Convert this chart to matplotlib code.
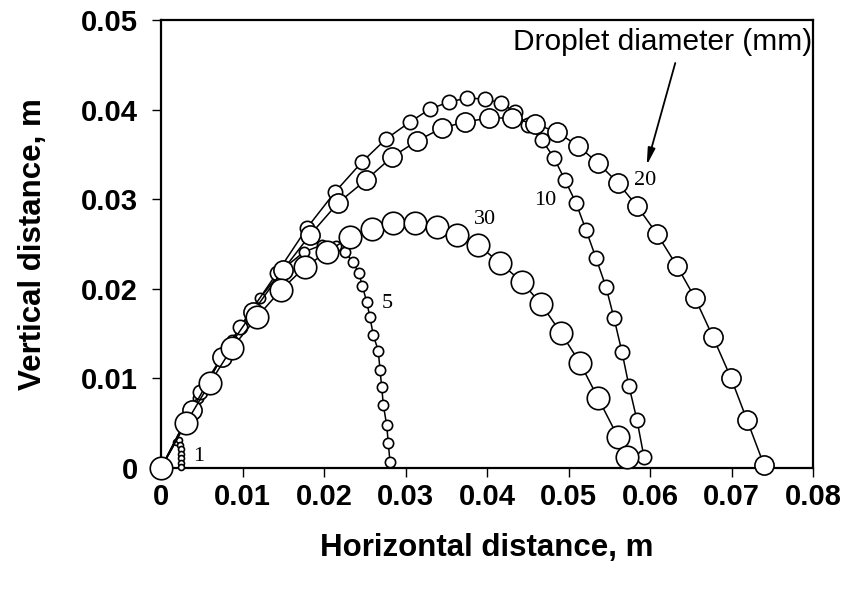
import matplotlib
matplotlib.use("Agg")
import matplotlib.pyplot as plt

# Droplet trajectories (x, y in m) for diameters 1, 5, 10, 20, 30 mm
x_1 = [0.0, 0.0018, 0.0022, 0.0023, 0.0024, 0.0024, 0.0024, 0.0024, 0.0024]
y_1 = [0.0, 0.0029, 0.0031, 0.0026, 0.0021, 0.0016, 0.0011, 0.0006, 0.0001]

x_5 = [0.0, 0.00454, 0.00871, 0.01215, 0.01509, 0.01755, 0.01975, 0.02147, 0.02258,
       0.02352, 0.02429, 0.0247, 0.02524, 0.02564, 0.02605, 0.02666, 0.02687,
       0.02708, 0.02728, 0.02769, 0.02789, 0.0281]
y_5 = [0.0, 0.00781, 0.01429, 0.01897, 0.02232, 0.02411, 0.02489, 0.02478, 0.02411,
       0.02302, 0.02173, 0.02031, 0.01856, 0.01682, 0.01481, 0.01309, 0.01094,
       0.00907, 0.00703, 0.0048, 0.00276, 0.00064]

x_10 = [0.0, 0.00479, 0.00969, 0.01423, 0.01791, 0.02135, 0.02466, 0.02761, 0.03055,
        0.03301, 0.03534, 0.03755, 0.03975, 0.04172, 0.04344, 0.04503, 0.04675,
        0.04822, 0.04957, 0.05092, 0.05215, 0.05337, 0.0546, 0.05558, 0.05656,
        0.05742, 0.0584, 0.05926]
y_10 = [0.0, 0.00848, 0.01574, 0.02176, 0.02679, 0.0308, 0.03415, 0.03672, 0.03862,
        0.04007, 0.04085, 0.04129, 0.04118, 0.04074, 0.03973, 0.03828, 0.03661,
        0.0346, 0.03214, 0.02958, 0.02656, 0.02344, 0.0202, 0.01674, 0.01295,
        0.00915, 0.00536, 0.00123]

x_20 = [0.0, 0.0038, 0.00748, 0.01129, 0.01497, 0.01828, 0.02172, 0.02515, 0.02834,
        0.03141, 0.03448, 0.0373, 0.04025, 0.04307, 0.04589, 0.04859, 0.05117,
        0.05362, 0.05607, 0.0584, 0.06086, 0.06331, 0.06552, 0.06773, 0.06994,
        0.0719, 0.07399]
y_20 = [0.0, 0.00647, 0.01239, 0.01741, 0.0221, 0.026, 0.02958, 0.03214, 0.03471,
        0.0365, 0.03795, 0.03862, 0.03906, 0.03906, 0.03839, 0.0375, 0.03594,
        0.03404, 0.03181, 0.02924, 0.02612, 0.02254, 0.01897, 0.01462, 0.01004,
        0.00536, 0.00033]

x_30 = [0.0, 0.00307, 0.00601, 0.00871, 0.01178, 0.01472, 0.01767, 0.02037, 0.02319,
        0.02589, 0.02847, 0.03117, 0.03387, 0.03632, 0.0389, 0.0416, 0.0443,
        0.04663, 0.04908, 0.05141, 0.05362, 0.05607, 0.05718]
y_30 = [0.0, 0.00502, 0.00949, 0.01339, 0.01685, 0.01987, 0.02243, 0.02411, 0.02578,
        0.02667, 0.02734, 0.02734, 0.0269, 0.026, 0.02489, 0.02288, 0.02076,
        0.0183, 0.01507, 0.01172, 0.00781, 0.00346, 0.00123]

series_labels = ["1", "5", "10", "20", "30"]
label_x = [0.00458, 0.0277, 0.0471, 0.0594, 0.0398]
label_y = [0.00126, 0.0184, 0.0299, 0.0321, 0.0277]

x_ticks = [0, 0.01, 0.02, 0.03, 0.04, 0.05, 0.06, 0.07, 0.08]
x_ticklabels = ["0", "0.01", "0.02", "0.03", "0.04", "0.05", "0.06", "0.07", "0.08"]
y_ticks = [0, 0.01, 0.02, 0.03, 0.04, 0.05]
y_ticklabels = ["0", "0.01", "0.02", "0.03", "0.04", "0.05"]

marker_sizes = [4.3, 7.4, 10.3, 13.8, 16.2]

fig = plt.figure(figsize=(8.49, 5.93), dpi=100)
ax = fig.add_axes([161/849, 1 - 468/593, (813-161)/849, (468-20)/593])

all_x = [x_1, x_5, x_10, x_20, x_30]
all_y = [y_1, y_5, y_10, y_20, y_30]
for i, (xs, ys) in enumerate(zip(all_x, all_y)):
    ax.plot(xs, ys, '-o', color='black', lw=1.1, ms=marker_sizes[i],
            mfc='white', mec='black', mew=1.2, clip_on=False, zorder=3 + i)

for lab, lx, ly in zip(series_labels, label_x, label_y):
    ax.text(lx, ly, lab, family='Liberation Serif', fontsize=16,
            ha='center', va='center', zorder=10)

ax.annotate("", xy=(0.0596, 0.0338), xytext=(0.0631, 0.0452),
            arrowprops=dict(arrowstyle='-|>,head_length=1.0,head_width=0.22',
                            color='black', lw=1.3, shrinkA=0, shrinkB=0))
ax.text(0.0616, 0.0475, "Droplet diameter (mm)", family='Liberation Sans',
        fontsize=21.5, ha='center', va='center', zorder=10)

ax.set_xlim(0, 0.08)
ax.set_ylim(0, 0.05)
ax.set_xticks(x_ticks)
ax.set_xticklabels(x_ticklabels)
ax.set_yticks(y_ticks)
ax.set_yticklabels(y_ticklabels)
for lbl in ax.get_xticklabels() + ax.get_yticklabels():
    lbl.set_family('Liberation Sans')
    lbl.set_fontweight('bold')
    lbl.set_fontsize(21)
ax.tick_params(direction='out', length=6.5, width=1.0, pad=10)
ax.tick_params(axis='x', pad=4)
for sp in ax.spines.values():
    sp.set_linewidth(1.6)

ax.set_xlabel("Horizontal distance, m", family='Liberation Sans',
              fontweight='bold', fontsize=22.5, labelpad=16)
ax.set_ylabel("Vertical distance, m", family='Liberation Sans',
              fontweight='bold', fontsize=22.5, labelpad=24)

fig.savefig("out.png", dpi=100)
